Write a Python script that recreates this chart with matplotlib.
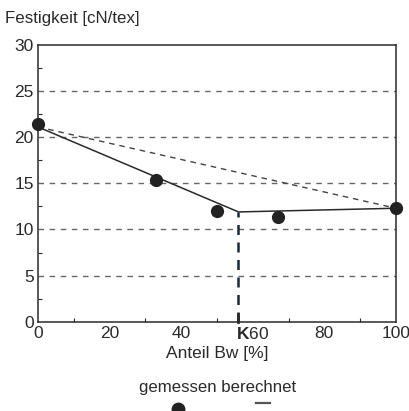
import matplotlib as mpl
mpl.use('Agg')

import numpy as np
import matplotlib.pyplot as plt
from matplotlib.lines import Line2D

# Data
share = [0, 33, 50, 67, 100]            # Anteil Bw [%]
measured = [21.4, 15.4, 12.0, 11.4, 12.3]  # gemessen
calc_x = [0, 56, 100]                   # berechnet (Knick bei K)
calc_y = [21.1, 11.9, 12.3]
mix_x = [0, 100]                        # lineare Mischungsregel
mix_y = [21.1, 12.3]
k_pos = 56
grid_y = [5, 10, 15, 20, 25]
xtick_labels = ['0', '20', '40', r'$\mathbf{K}$60', '80', '100']

plt.rcParams['font.family'] = ['Liberation Sans', 'DejaVu Sans']
plt.rcParams['mathtext.fontset'] = 'custom'
plt.rcParams['mathtext.rm'] = 'Liberation Sans'
plt.rcParams['mathtext.bf'] = 'Liberation Sans:bold'
ink = '#2a2a2a'
fs = 12.5

fig = plt.figure(figsize=(4.09, 4.11), dpi=100)
ax = fig.add_axes([0.093, 0.217, 0.875, 0.674])

for g in grid_y:
    ax.axhline(g, color='#666666', lw=1.0, ls=(0, (4, 4)), zorder=1)

ax.plot(mix_x, mix_y, color='#444444', lw=1.0, ls=(0, (4, 3.5)), zorder=2)
ax.plot(calc_x, calc_y, color=ink, lw=1.1, zorder=3)
ax.plot([k_pos, k_pos], [0, calc_y[1]], color='#1a2a33', lw=1.8,
        ls=(0, (4, 3)), zorder=3)
ax.plot(share, measured, 'o', color='#222222', ms=8.5, zorder=4, clip_on=False)

ax.set_xlim(0, 100)
ax.set_ylim(0, 30)
ax.set_xticks([0, 20, 40, 60, 80, 100])
ax.set_xticks(np.arange(10, 100, 10), minor=True)
ax.set_yticks([0, 5, 10, 15, 20, 25, 30])
ax.set_yticks(np.arange(2.5, 30, 5), minor=True)
ax.tick_params(which='both', direction='in', colors=ink, labelsize=fs)
ax.tick_params(which='major', length=0, pad=3)
ax.tick_params(which='minor', length=3, width=0.8)
for s in ax.spines.values():
    s.set_color(ink)
    s.set_linewidth(1.1)

# K marker tick and label
ax.plot([k_pos, k_pos], [0, 0.9], color=ink, lw=2.0, zorder=5, clip_on=False)
ax.set_xticklabels(xtick_labels)

ax.set_xlabel('Anteil Bw [%]', fontsize=fs, color=ink, labelpad=3)
fig.text(0.012, 0.955, 'Festigkeit [cN/tex]', fontsize=12.2, color=ink,
         ha='left', va='center')

# legend below the axes
fig.text(0.532, 0.056, 'gemessen berechnet', fontsize=12.1, color=ink,
         ha='center', va='center')
fig.add_artist(Line2D([178 / 409], [2 / 411], marker='o', ms=9,
                      color='#222222', transform=fig.transFigure))
fig.add_artist(Line2D([256 / 409, 270 / 409], [8 / 411, 8 / 411],
                      lw=1.6, color='#555555', transform=fig.transFigure))

fig.savefig('out.png', dpi=100)
